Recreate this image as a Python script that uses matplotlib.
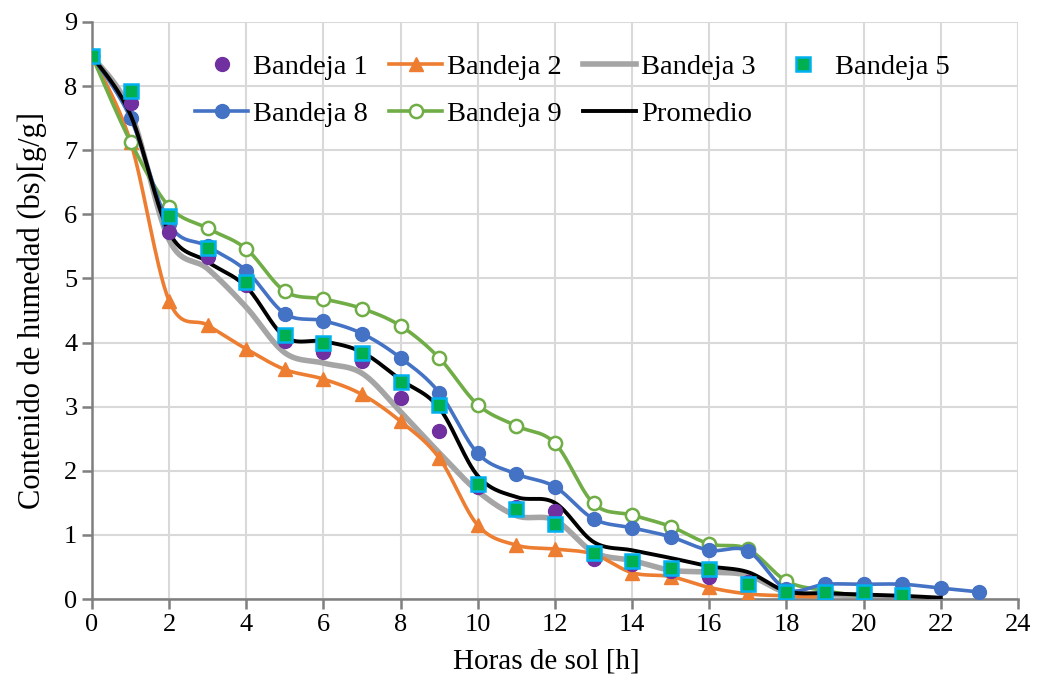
import numpy as np
import matplotlib
matplotlib.use('Agg')
import matplotlib.pyplot as plt
from matplotlib.lines import Line2D

plt.rcParams['font.family'] = ['Liberation Serif', 'DejaVu Serif']

# ── Drying data: moisture content (dry basis) vs sun hours ────
h_b1 = list(range(0, 19))
b1 = [8.47, 7.74, 5.73, 5.33, 4.90, 4.02, 3.86, 3.72, 3.13, 2.62,
      1.74, 1.43, 1.38, 0.63, 0.55, 0.44, 0.35, 0.27, 0.02]

h_b2 = list(range(0, 20))
b2 = [8.47, 7.13, 4.65, 4.27, 3.90, 3.58, 3.43, 3.19, 2.77, 2.20,
      1.15, 0.84, 0.78, 0.70, 0.41, 0.35, 0.18, 0.08, 0.05, 0.03]

h_b3 = list(range(0, 22))
b3 = [8.47, 7.60, 5.60, 5.15, 4.55, 3.84, 3.68, 3.52, 2.92, 2.28,
      1.68, 1.30, 1.23, 0.73, 0.60, 0.45, 0.42, 0.37, 0.10, 0.07,
      0.05, 0.03]

h_b5 = list(range(0, 22))
b5 = [8.47, 7.93, 5.97, 5.48, 4.94, 4.12, 4.00, 3.84, 3.39, 3.03,
      1.80, 1.41, 1.17, 0.71, 0.59, 0.49, 0.47, 0.23, 0.11, 0.11,
      0.11, 0.06]

h_b8 = list(range(0, 24))
b8 = [8.47, 7.50, 5.85, 5.50, 5.12, 4.45, 4.34, 4.14, 3.76, 3.22,
      2.27, 1.95, 1.75, 1.25, 1.11, 0.97, 0.76, 0.75, 0.15, 0.23,
      0.23, 0.23, 0.17, 0.11]

h_b9 = list(range(0, 21))
b9 = [8.47, 7.13, 6.12, 5.78, 5.46, 4.80, 4.68, 4.53, 4.26, 3.76,
      3.03, 2.70, 2.43, 1.49, 1.31, 1.13, 0.86, 0.78, 0.28, 0.13,
      0.04]

h_avg = list(range(0, 23))
avg = [8.47, 7.55, 5.72, 5.26, 4.87, 4.09, 4.02, 3.85, 3.42, 2.98,
       1.92, 1.59, 1.50, 0.89, 0.76, 0.64, 0.51, 0.42, 0.12, 0.09,
       0.07, 0.05, 0.02]


def smooth(x, y, n=30):
    """Bezier smoothing through every point (spreadsheet-style curves)."""
    x = np.asarray(x, float)
    y = np.asarray(y, float)
    px = np.concatenate([[x[0]], x, [x[-1]]])
    py = np.concatenate([[y[0]], y, [y[-1]]])
    xs, ys = [], []
    t = np.linspace(0, 1, n)
    for i in range(1, len(px) - 2):
        p0 = np.array([px[i], py[i]])
        p3 = np.array([px[i + 1], py[i + 1]])
        p1 = p0 + (p3 - np.array([px[i - 1], py[i - 1]])) / 6
        p2 = p3 - (np.array([px[i + 2], py[i + 2]]) - p0) / 6
        seg = ((1 - t) ** 3)[:, None] * p0 + (3 * (1 - t) ** 2 * t)[:, None] * p1 \
            + (3 * (1 - t) * t ** 2)[:, None] * p2 + (t ** 3)[:, None] * p3
        xs.extend(seg[:, 0])
        ys.extend(seg[:, 1])
    return xs, ys


c_b1 = '#7030A0'
c_b2 = '#ED7D31'
c_b3 = '#A5A5A5'
c_b5 = '#00B050'
c_b5e = '#00B0F0'
c_b8 = '#4472C4'
c_b9 = '#70AD47'

fig = plt.figure(figsize=(10.38, 6.79), dpi=100)
ax = fig.add_axes([0.0886, 0.1178, 0.8921, 0.8498])

lw = 2.6
ax.plot(*smooth(h_b3, b3), color=c_b3, lw=4.0, zorder=2)
ax.plot(*smooth(h_b2, b2), color=c_b2, lw=lw, zorder=3)
ax.plot(h_b2, b2, ls='none', marker='^', ms=10, color=c_b2, zorder=3)
ax.plot(*smooth(h_b9, b9), color=c_b9, lw=lw, zorder=4)
ax.plot(h_b9, b9, ls='none', marker='o', ms=9.5, mfc='white', mec=c_b9, mew=1.8, zorder=4)
ax.plot(*smooth(h_b8, b8), color=c_b8, lw=lw, zorder=4)
ax.plot(h_b8, b8, ls='none', marker='o', ms=10, color=c_b8, zorder=4)
ax.plot(*smooth(h_avg, avg), color='black', lw=2.8, zorder=5)
ax.plot(h_b1, b1, ls='none', marker='o', ms=10, color=c_b1, zorder=6)
ax.plot(h_b5, b5, ls='none', marker='s', ms=9.5, mfc=c_b5, mec=c_b5e, mew=1.8, zorder=7)

ax.set_xlim(0, 24)
ax.set_ylim(0, 9)
ax.set_xticks(range(0, 25, 2))
ax.set_yticks(range(0, 10))
ax.grid(True, color='#D9D9D9', lw=1.5)
ax.set_axisbelow(True)
for s in ['top', 'right']:
    ax.spines[s].set_visible(False)
for s in ['left', 'bottom']:
    ax.spines[s].set_color('#7F7F7F')
    ax.spines[s].set_linewidth(1.8)
ax.tick_params(axis='both', labelsize=19, color='#7F7F7F', width=1.8, length=7, direction='out')
ax.tick_params(axis='x', pad=4)
ax.set_xlabel('Horas de sol [h]', fontsize=21)
ax.xaxis.set_label_coords(0.491, -0.085)
ax.set_ylabel('Contenido de humedad (bs)[g/g]', fontsize=22, labelpad=12)

# legend, filled column by column to give two rows of four
handles = [
    Line2D([], [], ls='none', marker='o', ms=10, color=c_b1),
    Line2D([], [], color=c_b8, lw=lw, marker='o', ms=10),
    Line2D([], [], color=c_b2, lw=lw, marker='^', ms=10),
    Line2D([], [], color=c_b9, lw=lw, marker='o', ms=9.5, mfc='white', mec=c_b9, mew=1.8),
    Line2D([], [], color=c_b3, lw=4.0),
    Line2D([], [], color='black', lw=2.8),
    Line2D([], [], ls='none', marker='s', ms=9.5, mfc=c_b5, mec=c_b5e, mew=1.8),
]
labels = ['Bandeja 1', 'Bandeja 8', 'Bandeja 2', 'Bandeja 9',
          'Bandeja 3', 'Promedio', 'Bandeja 5']
ax.legend(handles, labels, ncol=4, frameon=False, fontsize=20.5,
          loc='upper left', bbox_to_anchor=(0.084, 0.989),
          handlelength=1.85, handletextpad=0.18, columnspacing=0.75,
          labelspacing=0.73)

plt.savefig('out.png', dpi=100)
